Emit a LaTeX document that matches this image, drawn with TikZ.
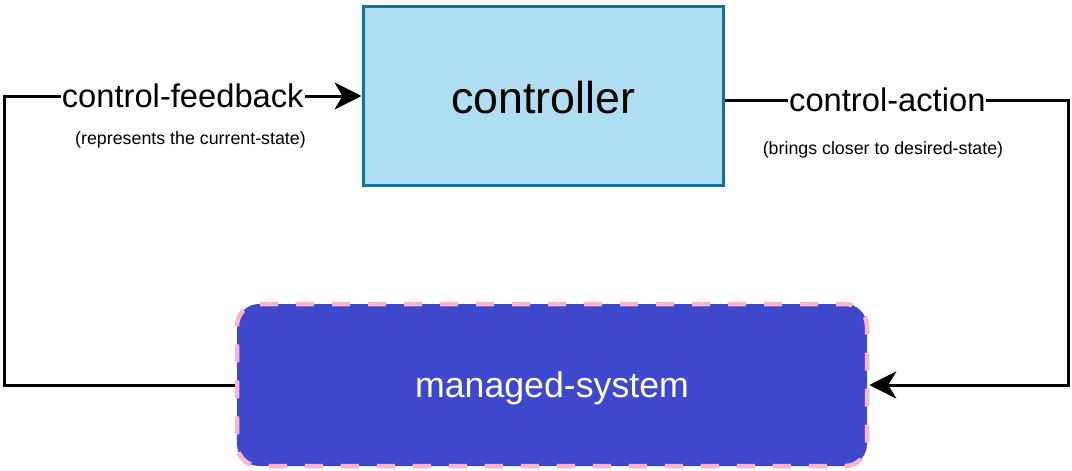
\documentclass[tikz,border=0pt]{standalone}
\usepackage{fontspec}
\setmainfont{Liberation Sans}
\usetikzlibrary{arrows.meta}
\definecolor{ctrlfill}{HTML}{B1DDF0}
\definecolor{ctrlline}{HTML}{10739E}
\definecolor{msfill}{HTML}{3E48CC}
\definecolor{msline}{HTML}{FFB3CF}
\tikzset{
  ctrlbox/.style={draw=ctrlline, fill=ctrlfill, line width=3pt, minimum width=360pt, minimum height=179pt, inner sep=0pt, text height=36.5pt, text depth=0pt, font=\fontsize{44.7}{50}\selectfont},
  msbox/.style={draw=msline, fill=msfill, line width=4.5pt, dash pattern=on 18pt off 18pt, dash phase=9pt, rounded corners=22pt, minimum width=630pt, minimum height=162pt, inner sep=0pt, text height=26pt, text depth=1.5pt, text=white, font=\fontsize{35.7}{40}\selectfont},
  conn/.style={line width=3pt, draw=black},
  arr/.style={-{Stealth[length=27pt,width=27pt,inset=8pt]}},
  mainlbl/.style={fill=white, inner sep=1pt, font=\fontsize{32.7}{36}\selectfont},
  sublbl/.style={inner sep=0pt, font=\fontsize{17.8}{20}\selectfont}
}
\begin{document}
\begin{tikzpicture}[x=1pt,y=-1pt]
\useasboundingbox (0,0) rectangle (1072,471);
\node[ctrlbox] (ctrl) at (543,95.5) {controller};
\node[msbox] (ms) at (552,385) {managed-system};
\coordinate (c1) at (4,385);
\coordinate (c2) at (4,96);
\coordinate (d1) at (1068,100);
\coordinate (d2) at (1068,385);
\draw[conn,arr] (ms.west) -- (c1) -- (c2) -- node[mainlbl] (fbl) {control-feedback} (ctrl.west |- c2);
\draw[conn,arr] (ctrl.east |- d1) -- node[mainlbl,pos=0.474] (acl) {control-action} (d1) -- (d2) -- (ms.east);
\node[sublbl] (fbs) at (190.5,140) {(represents the current-state)};
\node[sublbl] (acs) at (883,150) {(brings closer to desired-state)};
\end{tikzpicture}
\end{document}
